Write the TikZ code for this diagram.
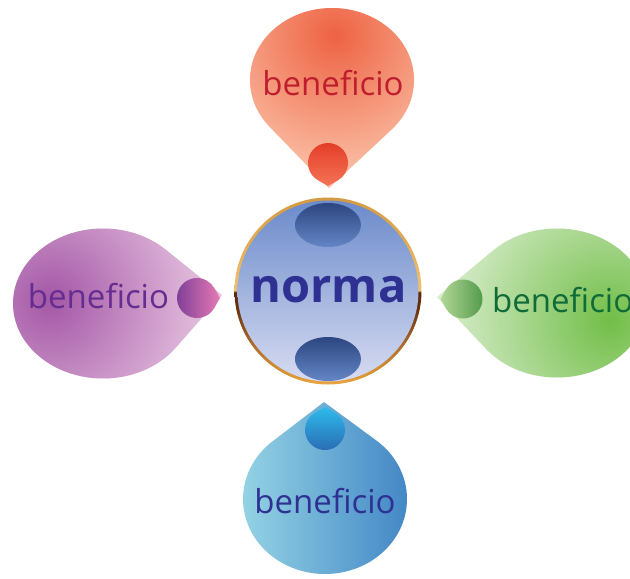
\documentclass[tikz,border=0pt]{standalone}
\usepackage{fontspec}
\setmainfont{Open Sans}
\definecolor{redIn}{HTML}{EE6243}
\definecolor{redOut}{HTML}{FDD3BA}
\definecolor{purpleIn}{HTML}{A457A6}
\definecolor{purpleOut}{HTML}{F3D9EB}
\definecolor{greenIn}{HTML}{72BE48}
\definecolor{greenOut}{HTML}{E9F4E2}
\definecolor{blueL}{HTML}{95D4E4}
\definecolor{blueR}{HTML}{3F83C4}
\definecolor{tRed}{HTML}{BE1E2D}
\definecolor{tPurple}{HTML}{662D91}
\definecolor{tGreen}{HTML}{0F6B38}
\definecolor{tBlue}{HTML}{2E3192}
\definecolor{cTop}{HTML}{6B8BCB}
\definecolor{cMid}{HTML}{9FB1DE}
\definecolor{cBot}{HTML}{D7DBF1}
\definecolor{eTop}{HTML}{2C4680}
\definecolor{eBot}{HTML}{6486C6}
\definecolor{rgA}{HTML}{E8A53F}
\definecolor{rgB}{HTML}{B0702A}
\definecolor{rgC}{HTML}{6B3410}
\definecolor{rgD}{HTML}{5A260C}
\definecolor{rgE}{HTML}{F0C070}
\definecolor{rgF}{HTML}{D49A40}
\definecolor{sdRedT}{HTML}{E33B24}
\definecolor{sdRedB}{HTML}{F47458}
\definecolor{sdPurL}{HTML}{7B3C96}
\definecolor{sdPurR}{HTML}{E57AB5}
\definecolor{sdGrnL}{HTML}{B2D796}
\definecolor{sdGrnR}{HTML}{4E9848}
\definecolor{sdBluT}{HTML}{2DBBEC}
\definecolor{sdBluB}{HTML}{2A68B0}
\pgfdeclareverticalshading{ringshade}{100bp}{color(0bp)=(rgA); color(25bp)=(rgA); color(35bp)=(rgB); color(45bp)=(rgC); color(49.8bp)=(rgD); color(50bp)=(rgE); color(75bp)=(rgF); color(100bp)=(rgF)}
\newcommand\smdrop[5]{([shift={(#1,#2)}]#3:#5) -- ([shift={(#1,#2)}]#3+30:#4) arc[start angle=#3+30, end angle=#3-30+360, radius=#4] -- cycle}
\tikzset{
  lbl/.style={anchor=base, inner sep=0pt, font=\fontsize{33}{38}\selectfont},
}
\begin{document}
\begin{tikzpicture}[x=1pt,y=-1pt]
\useasboundingbox (0,0) rectangle (630,579);
\clip (0,0) rectangle (630,579);
% top drop
\begin{scope}
\clip (329,188) -- ([shift={(332,80)}]43.2:82 and 72) arc[start angle=43.2, end angle=-220.4, x radius=82, y radius=72] -- cycle;
\fill[redOut] (0,0) rectangle (630,579);
\shade[inner color=redIn, outer color=redOut] (335,35) circle (170pt);
\end{scope}
% left drop
\begin{scope}
\clip (222,295) -- ([shift={(103,303.5)}]-46:90 and 75) arc[start angle=-46, end angle=-323.8, x radius=90, y radius=75] -- cycle;
\fill[purpleOut] (0,0) rectangle (630,579);
\shade[inner color=purpleIn, outer color=purpleOut] (50,300) circle (195pt);
\end{scope}
% right drop
\begin{scope}
\clip (437,297) -- ([shift={(557,303)}]225:90 and 74.5) arc[start angle=225, end angle=502, x radius=90, y radius=74.5] -- cycle;
\fill[greenOut] (0,0) rectangle (630,579);
\shade[inner color=greenIn, outer color=greenOut] (610,320) circle (195pt);
\end{scope}
% bottom drop
\shade[left color=blueL, right color=blueR] (324,402) -- ([shift={(325,499)}]-50.7:82 and 75) arc[start angle=-50.7, end angle=230.7, x radius=82, y radius=75] -- cycle;
% small drops
\shade[top color=sdRedT, bottom color=sdRedB] \smdrop{328}{163}{90}{20}{23};
\shade[left color=sdPurL, right color=sdPurR] \smdrop{197}{298}{0}{20}{23};
\shade[left color=sdGrnL, right color=sdGrnR] \smdrop{463}{299}{180}{19.5}{22.5};
\shade[top color=sdBluT, bottom color=sdBluB] \smdrop{325}{430}{270}{20}{23};
% centre circle
\shade[shading=ringshade] (328,291) circle (93.5pt);
\shade[top color=cTop, middle color=cMid, bottom color=cBot] (328,291) circle (90.5pt);
\shade[top color=eTop, bottom color=eBot] (328,225) ellipse (33pt and 22pt);
\shade[top color=eTop, bottom color=eBot] (328,359) ellipse (33pt and 22pt);
% texts
\node[lbl, text=tRed] (t1) at (333,95) {beneficio};
\node[lbl, text=tPurple] (t2) at (98.5,308) {beneficio};
\node[lbl, text=tGreen, anchor=base west] (t3) at (492,312) {beneficio};
\node[lbl, text=tBlue] (t4) at (325,513) {beneficio};
\node[anchor=base, inner sep=0pt, text=tBlue, font=\fontsize{47}{54}\selectfont\bfseries] (n) at (328.5,302) {norma};
\end{tikzpicture}
\end{document}
